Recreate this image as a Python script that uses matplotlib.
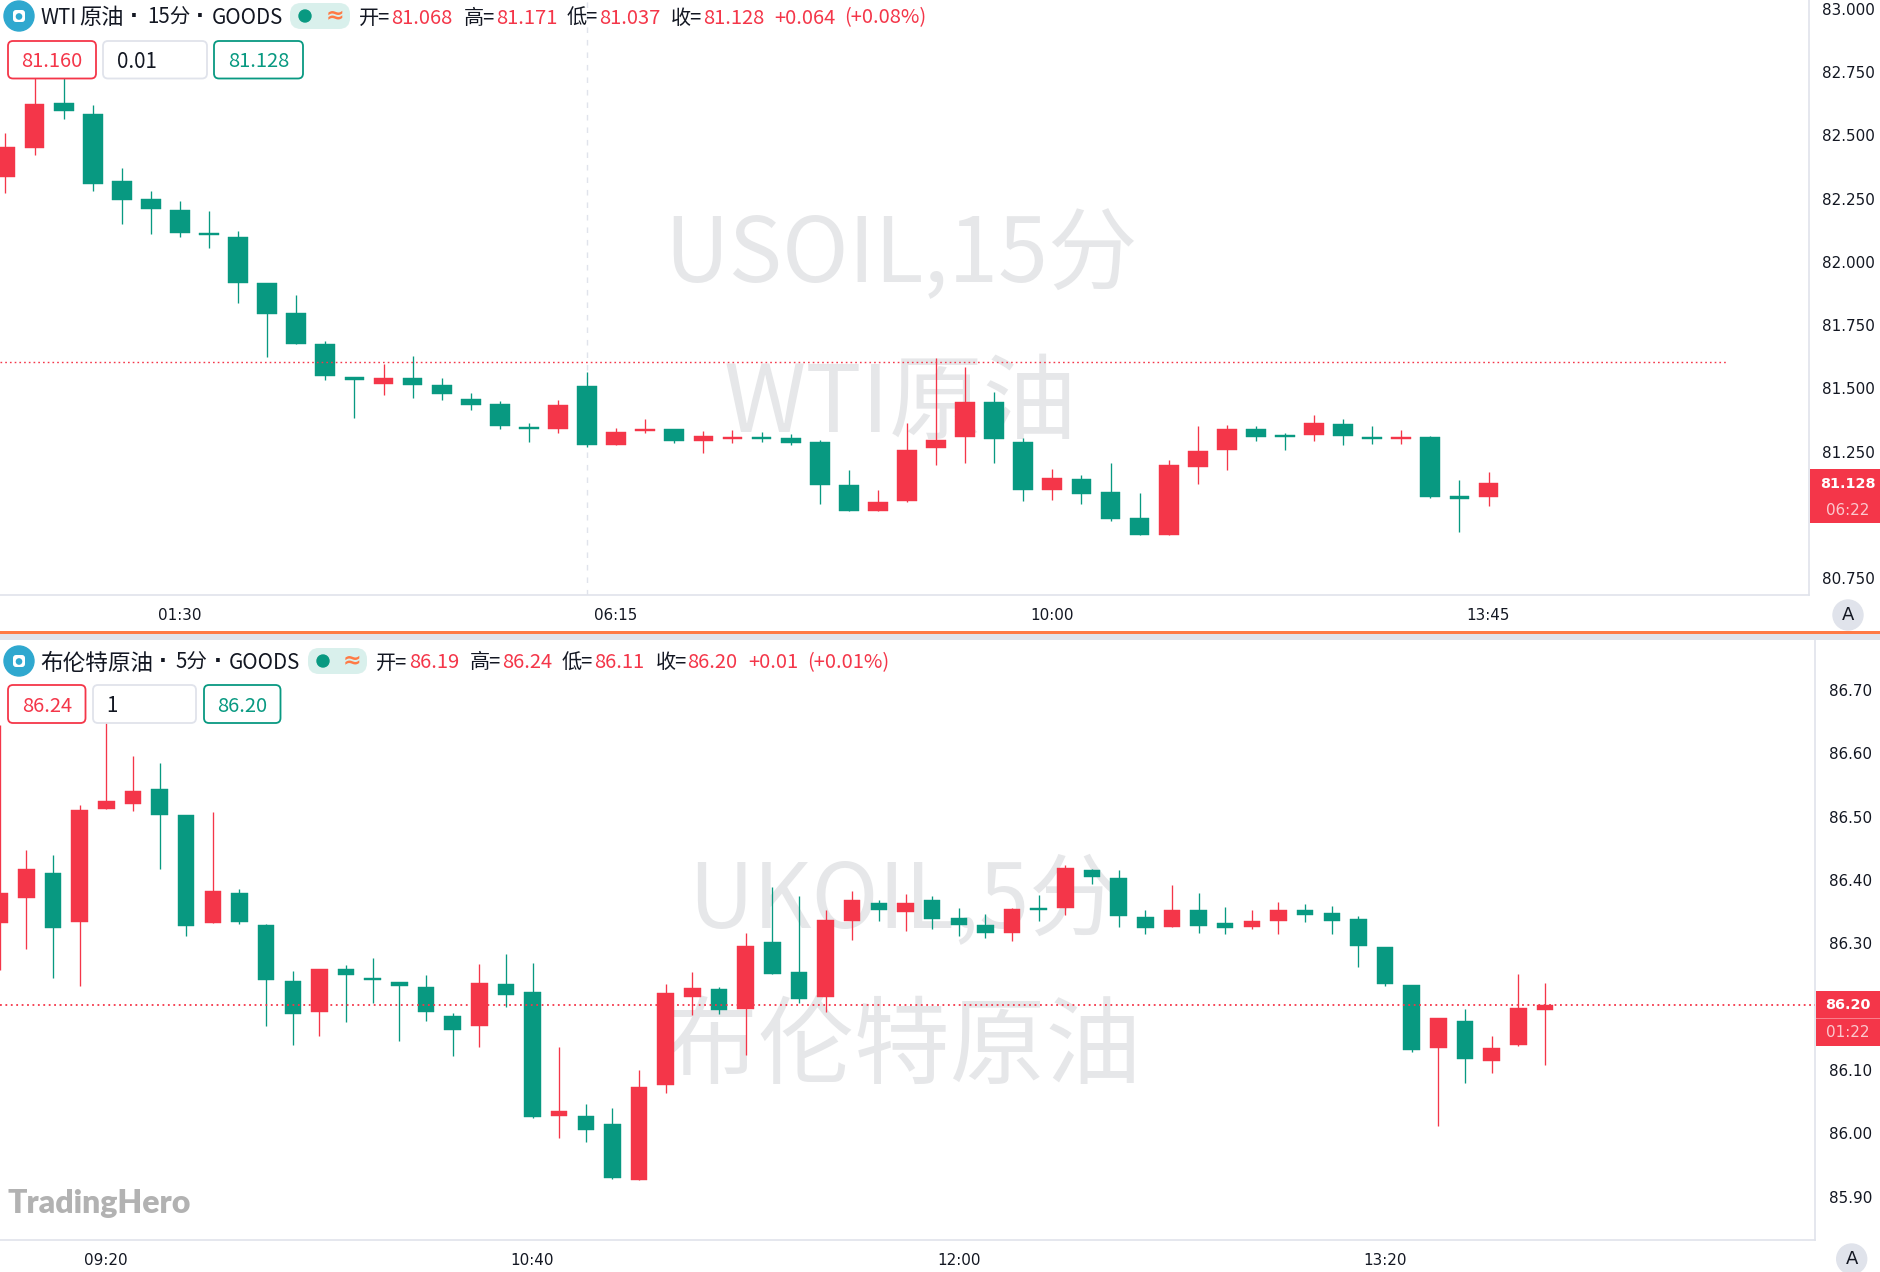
"""Two stacked candlestick panels, WTI 15 min and Brent 5 min."""

import matplotlib

matplotlib.use("Agg")
import matplotlib.pyplot as plt
import numpy as np
from matplotlib.patches import Circle, FancyBboxPatch, Rectangle

W, H = 1880, 1272
RED = "#F43649"
GREEN = "#089981"
LINE = "#E0E3EB"
INK = "#131722"
CJK = ["Noto Sans CJK SC", "DejaVu Sans"]

wti_open = [82.335, 82.450, 82.627, 82.586, 82.319, 82.249, 82.204, 82.113, 82.098, 81.918, 81.799, 81.677, 81.545,
            81.519, 81.541, 81.515, 81.458, 81.439, 81.348, 81.339, 81.511, 81.278, 81.331, 81.339, 81.292, 81.302,
            81.308, 81.303, 81.287, 81.117, 81.016, 81.054, 81.266, 81.308, 81.446, 81.290, 81.097, 81.142, 81.091,
            80.986, 80.920, 81.191, 81.256, 81.340, 81.315, 81.316, 81.359, 81.307, 81.300, 81.309, 81.073, 81.069]
wti_high = [82.511, 82.745, 82.745, 82.619, 82.372, 82.281, 82.242, 82.201, 82.122, 81.918, 81.868, 81.689, 81.545,
            81.598, 81.627, 81.541, 81.482, 81.451, 81.363, 81.455, 81.564, 81.343, 81.380, 81.339, 81.332, 81.336,
            81.328, 81.321, 81.298, 81.176, 81.098, 81.363, 81.621, 81.585, 81.486, 81.306, 81.180, 81.158, 81.206,
            81.085, 81.216, 81.351, 81.356, 81.351, 81.323, 81.396, 81.379, 81.352, 81.336, 81.312, 81.138, 81.171]
wti_low = [82.273, 82.421, 82.566, 82.282, 82.151, 82.111, 82.099, 82.056, 81.837, 81.626, 81.674, 81.535, 81.385,
           81.475, 81.462, 81.455, 81.416, 81.339, 81.290, 81.325, 81.268, 81.278, 81.325, 81.286, 81.246, 81.286,
           81.290, 81.275, 81.045, 81.016, 81.015, 81.052, 81.197, 81.204, 81.206, 81.054, 81.058, 81.044, 80.975,
           80.922, 80.920, 81.121, 81.179, 81.294, 81.257, 81.294, 81.277, 81.281, 81.281, 81.066, 80.933, 81.037]
wti_close = [82.454, 82.623, 82.595, 82.308, 82.246, 82.209, 82.113, 82.105, 81.917, 81.793, 81.677, 81.548, 81.532,
             81.541, 81.515, 81.478, 81.433, 81.353, 81.339, 81.436, 81.277, 81.329, 81.339, 81.291, 81.312, 81.308,
             81.300, 81.286, 81.117, 81.016, 81.053, 81.258, 81.297, 81.446, 81.300, 81.099, 81.147, 81.083, 80.984,
             80.922, 81.197, 81.254, 81.341, 81.308, 81.309, 81.363, 81.314, 81.300, 81.307, 81.071, 81.063, 81.128]
wti_level = 81.605
wti_yticks = [83.0, 82.75, 82.5, 82.25, 82.0, 81.75, 81.5, 81.25, 80.75]
wti_time_idx = [6, 21, 36, 51]
wti_time_labels = ["01:30", "06:15", "10:00", "13:45"]

brent_open = [86.332, 86.372, 86.411, 86.334, 86.512, 86.520, 86.543, 86.502, 86.332, 86.380, 86.329, 86.241, 86.191,
              86.260, 86.245, 86.239, 86.231, 86.185, 86.170, 86.236, 86.223, 86.027, 86.027, 86.014, 85.927, 86.077,
              86.216, 86.228, 86.196, 86.302, 86.254, 86.216, 86.336, 86.363, 86.349, 86.368, 86.340, 86.329, 86.317,
              86.355, 86.356, 86.415, 86.403, 86.342, 86.325, 86.352, 86.332, 86.325, 86.335, 86.352, 86.348, 86.338,
              86.294, 86.234, 86.134, 86.177, 86.114, 86.140, 86.194]
brent_high = [86.645, 86.447, 86.439, 86.518, 86.653, 86.596, 86.585, 86.502, 86.508, 86.386, 86.331, 86.257, 86.260,
              86.266, 86.277, 86.239, 86.250, 86.190, 86.267, 86.283, 86.269, 86.136, 86.047, 86.040, 86.100, 86.235,
              86.255, 86.231, 86.316, 86.389, 86.374, 86.353, 86.383, 86.368, 86.378, 86.374, 86.356, 86.346, 86.356,
              86.376, 86.423, 86.418, 86.415, 86.353, 86.392, 86.379, 86.357, 86.353, 86.365, 86.362, 86.359, 86.343,
              86.294, 86.234, 86.182, 86.196, 86.153, 86.252, 86.237]
brent_low = [86.258, 86.291, 86.245, 86.232, 86.512, 86.509, 86.418, 86.311, 86.332, 86.330, 86.170, 86.140, 86.154,
             86.176, 86.206, 86.146, 86.178, 86.122, 86.137, 86.200, 86.024, 85.993, 85.986, 85.928, 85.927, 86.063,
             86.187, 86.189, 86.124, 86.251, 86.205, 86.191, 86.306, 86.335, 86.319, 86.323, 86.311, 86.308, 86.304,
             86.335, 86.344, 86.394, 86.325, 86.315, 86.325, 86.317, 86.315, 86.323, 86.315, 86.334, 86.315, 86.262,
             86.232, 86.129, 86.011, 86.080, 86.096, 86.138, 86.108]
brent_close = [86.379, 86.417, 86.324, 86.510, 86.525, 86.541, 86.503, 86.328, 86.383, 86.333, 86.242, 86.189, 86.260,
               86.250, 86.242, 86.233, 86.191, 86.163, 86.237, 86.219, 86.026, 86.035, 86.006, 85.930, 86.073, 86.221,
               86.229, 86.195, 86.296, 86.251, 86.212, 86.337, 86.369, 86.353, 86.364, 86.339, 86.329, 86.317, 86.354,
               86.353, 86.419, 86.404, 86.343, 86.324, 86.353, 86.327, 86.324, 86.336, 86.353, 86.345, 86.335, 86.295,
               86.235, 86.131, 86.182, 86.118, 86.134, 86.198, 86.203]
brent_level = 86.203
brent_yticks = [86.7, 86.6, 86.5, 86.4, 86.3, 86.1, 86.0, 85.9]
brent_time_idx = [4, 20, 36, 52]
brent_time_labels = ["09:20", "10:40", "12:00", "13:20"]


def add_axes_px(fig, x0, y0, x1, y1):
    ax = fig.add_axes([x0 / W, 1 - y1 / H, (x1 - x0) / W, (y1 - y0) / H])
    ax.set_facecolor("none")
    return ax


def draw_candles(ax, opens, highs, lows, closes, width):
    o, h, l, c = map(np.array, (opens, highs, lows, closes))
    x = np.arange(len(o))
    colors = np.where(c >= o, RED, GREEN)
    ax.vlines(x, l, h, colors=colors, linewidth=0.95, zorder=3)
    ax.bar(x, np.abs(c - o), bottom=np.minimum(o, c), width=width, color=colors,
           edgecolor=colors, linewidth=0.3, zorder=4)


def style_axis(ax, yticks, fmt, time_idx, time_labels, ypad, xpad):
    for side in ("top", "left"):
        ax.spines[side].set_visible(False)
    for side in ("bottom", "right"):
        ax.spines[side].set_color(LINE)
        ax.spines[side].set_linewidth(1.2)
    ax.yaxis.tick_right()
    ax.set_yticks(yticks, [fmt.format(v) for v in yticks])
    ax.set_xticks(time_idx, time_labels)
    ax.tick_params(axis="y", length=0, pad=ypad, labelsize=10.9, labelcolor=INK)
    ax.tick_params(axis="x", length=0, pad=xpad, labelsize=10.9, labelcolor=INK)


def header(ov, cy, title_parts, dots, pill, parts):
    # icon, title, status pill and the OHLC read-out of one panel
    ov.add_patch(Circle((19, cy), 15, color="#2FA8CF"))
    ov.add_patch(FancyBboxPatch((13, cy - 6), 12, 12, boxstyle="round,pad=0,rounding_size=3", fc="white", ec="none"))
    ov.add_patch(Circle((19, cy + 0.5), 2.6, color="#2FA8CF"))
    for x, txt, size in title_parts:
        ov.text(x, cy + 2, txt, fontsize=size, color=INK, va="center", family=CJK)
    for x in dots:
        ov.text(x, cy, "·", fontsize=15, fontweight="bold", color=INK, ha="center", va="center",
                family="DejaVu Sans")
    ov.add_patch(FancyBboxPatch((pill[0], cy - 13), pill[1] - pill[0], 26,
                                boxstyle="round,pad=0,rounding_size=11", fc="#D9F0EC", ec="none"))
    ov.add_patch(Circle((pill[0] + 15, cy), 6, color=GREEN))
    ov.text(pill[1] - 15, cy - 1, "≈", fontsize=16, color="#FF7A45", fontweight="bold", ha="center", va="center",
            family="DejaVu Sans")
    for x, txt, col in parts:
        ov.text(x, cy + 2, txt, fontsize=14.5, color=col, va="center", family=CJK)


def input_box(ov, x0, x1, y0, y1, edge, txt, col, left=None):
    ov.add_patch(FancyBboxPatch((x0, y0), x1 - x0, y1 - y0, boxstyle="round,pad=0,rounding_size=5",
                                fc="white", ec=edge, lw=1.3))
    cy = (y0 + y1) / 2 + 2
    if left is None:
        ov.text((x0 + x1) / 2, cy, txt, fontsize=14.5, color=col, ha="center", va="center", family=CJK)
    else:
        ov.text(left, cy, txt, fontsize=14.8, color=INK, va="center", family=CJK)


def price_tag(ov, x0, y0, y1, y_price, y_time, price, clock):
    ov.add_patch(Rectangle((x0, y0), W - x0, y1 - y0, fc=RED, ec="none"))
    ov.text(1848, y_price, price, fontsize=10.4, fontweight="bold", color="white", ha="center", va="center",
            family="DejaVu Sans")
    ov.text(1848, y_time, clock, fontsize=10.9, color="#FBC9CE", ha="center", va="center", family="DejaVu Sans")


def main() -> None:
    plt.rcParams["font.family"] = ["DejaVu Sans"]
    fig = plt.figure(figsize=(W / 100, H / 100), dpi=100, facecolor="white")

    # watermarks sit behind the candles
    back = add_axes_px(fig, 0, 0, W, H)
    back.set_xlim(0, W)
    back.set_ylim(H, 0)
    back.axis("off")
    back.set_zorder(0)
    for x, y, txt, size in [(901, 257, "USOIL,15分", 64.5), (900, 405, "WTI原油", 67.5),
                            (904, 903, "UKOIL,5分", 65), (902, 1049, "布伦特原油", 69)]:
        back.text(x, y, txt, fontsize=size, color="#E6E7E9", ha="center", va="center", family=CJK)

    ax_top = add_axes_px(fig, 0, 0, 1809, 595)
    ax_top.set_zorder(1)
    draw_candles(ax_top, wti_open, wti_high, wti_low, wti_close, 0.68)
    ax_top.axvline(20, color=LINE, linewidth=1, linestyle=(0, (4, 5)), zorder=1)
    ax_top.axhline(wti_level, xmax=1727 / 1809, color=RED, linewidth=1, linestyle=(0, (1.2, 2.2)), zorder=5)
    ax_top.set_xlim(-0.189, 62.02)
    ax_top.set_ylim(80.6836, 83.0354)
    style_axis(ax_top, wti_yticks, "{:.3f}", wti_time_idx, wti_time_labels, 9.1, 9.7)

    ax_bot = add_axes_px(fig, 0, 640, 1815.3, 1240)
    ax_bot.set_zorder(1)
    draw_candles(ax_bot, brent_open, brent_high, brent_low, brent_close, 0.62)
    ax_bot.axhline(brent_level, color=RED, linewidth=1.3, linestyle=(0, (1, 2)), zorder=5)
    ax_bot.set_xlim(0.011, 68.15)
    ax_bot.set_ylim(85.8316, 86.7789)
    style_axis(ax_bot, brent_yticks, "{:.2f}", brent_time_idx, brent_time_labels, 9.9, 9.2)

    # everything drawn in screen pixels on top of the panels
    ov = add_axes_px(fig, 0, 0, W, H)
    ov.set_xlim(0, W)
    ov.set_ylim(H, 0)
    ov.axis("off")
    ov.set_zorder(10)
    ov.add_patch(Rectangle((0, 633.5), W, 6.5, fc=LINE, ec="none"))
    ov.add_patch(Rectangle((0, 630.8), W, 2.7, fc="#FF7A45", ec="none"))

    header(ov, 16, [(40, "WTI", 14.8), (79, "原油", 16), (147, "15分", 14.8), (212, "GOODS", 14.8)], [134, 200],
           (290, 350), [
        (359, "开=", INK), (391, "81.068", RED), (464, "高=", INK), (496, "81.171", RED),
        (567, "低=", INK), (599, "81.037", RED), (671, "收=", INK), (703, "81.128", RED),
        (774, "+0.064", RED), (844, "(+0.08%)", RED)])
    header(ov, 661, [(40, "布伦特原油", 16.3), (175, "5分", 14.8), (229, "GOODS", 14.8)], [163, 218], (308, 367), [
        (376, "开=", INK), (409, "86.19", RED), (470, "高=", INK), (502, "86.24", RED),
        (562, "低=", INK), (594, "86.11", RED), (656, "收=", INK), (687, "86.20", RED),
        (748, "+0.01", RED), (807, "(+0.01%)", RED)])

    input_box(ov, 8, 96, 41, 78.5, RED, "81.160", RED)
    input_box(ov, 103, 207, 41, 78.5, LINE, "0.01", INK, left=117)
    input_box(ov, 214, 303, 41, 78.5, GREEN, "81.128", GREEN)
    input_box(ov, 8, 85.5, 685, 723, RED, "86.24", RED)
    input_box(ov, 93, 196, 685, 723, LINE, "1", INK, left=106)
    input_box(ov, 204, 280.5, 685, 723, GREEN, "86.20", GREEN)

    price_tag(ov, 1809.5, 469, 523, 484, 510.5, "81.128", "06:22")
    price_tag(ov, 1815.5, 991.3, 1045.7, 1005, 1032.5, "86.20", "01:22")
    ov.add_patch(Rectangle((1815.5, 1018.3), W - 1815.5, 1, fc="#F87F8C", ec="none"))

    for cx, cy in [(1848, 615), (1851.7, 1259)]:
        ov.add_patch(Circle((cx, cy), 15, color=LINE))
        ov.text(cx, cy, "A", fontsize=13, color=INK, ha="center", va="center")

    ov.text(7, 1204, "TradingHero", fontsize=23, fontweight="heavy", color="#B2B2B2", va="center",
            family=["Lato", "DejaVu Sans"])

    fig.savefig("out.png", dpi=100, facecolor="white")


if __name__ == "__main__":
    main()
